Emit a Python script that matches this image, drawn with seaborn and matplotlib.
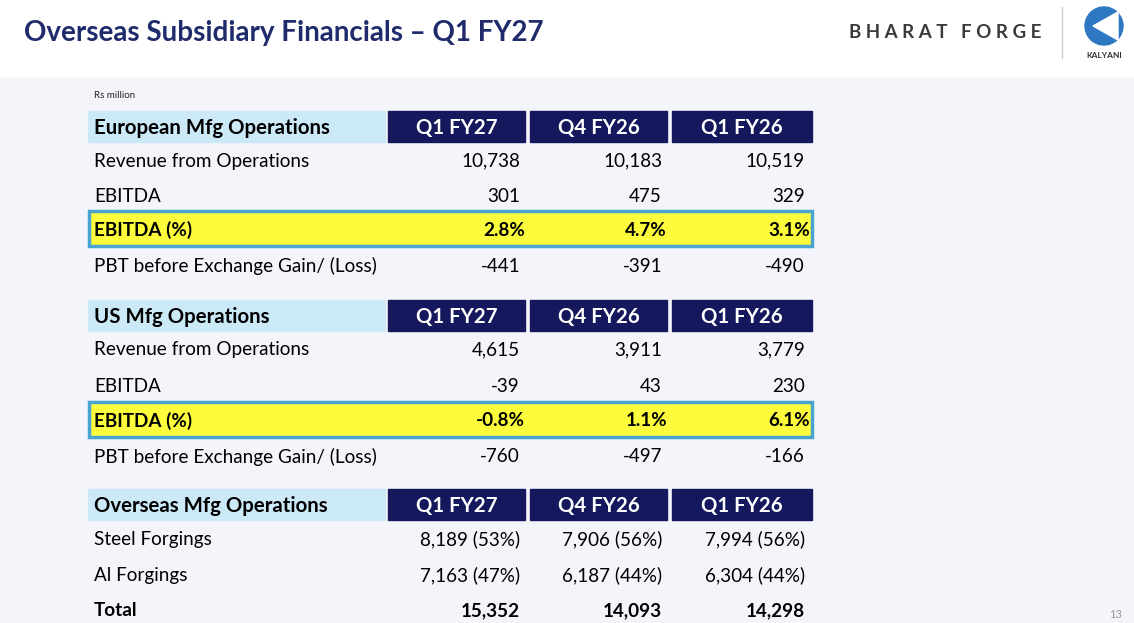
import matplotlib.pyplot as plt
import matplotlib.patches as mpatches
import seaborn as sns

sns.set_theme(style="white")
plt.rcParams['font.family'] = ['Lato', 'DejaVu Sans']

# ---- data
periods = ['Q1 FY27', 'Q4 FY26', 'Q1 FY26']
sections = ['European Mfg Operations', 'US Mfg Operations', 'Overseas Mfg Operations']
eu_rows = ['Revenue from Operations', 'EBITDA', 'EBITDA (%)', 'PBT before Exchange Gain/ (Loss)']
eu_vals = [['10,738', '10,183', '10,519'],
           ['301', '475', '329'],
           ['2.8%', '4.7%', '3.1%'],
           ['-441', '-391', '-490']]
us_rows = ['Revenue from Operations', 'EBITDA', 'EBITDA (%)', 'PBT before Exchange Gain/ (Loss)']
us_vals = [['4,615', '3,911', '3,779'],
           ['-39', '43', '230'],
           ['-0.8%', '1.1%', '6.1%'],
           ['-760', '-497', '-166']]
ov_rows = ['Steel Forgings', 'Al Forgings', 'Total']
ov_vals = [['8,189 (53%)', '7,906 (56%)', '7,994 (56%)'],
           ['7,163 (47%)', '6,187 (44%)', '6,304 (44%)'],
           ['15,352', '14,093', '14,298']]

NAVY = '#15185c'
fig = plt.figure(figsize=(11.34, 6.23), dpi=100)
ax = fig.add_axes([0, 0, 1, 1])
ax.set_xlim(0, 1134)
ax.set_ylim(623, 0)
ax.axis('off')
ax.add_patch(mpatches.Rectangle((0, 78), 1134, 545, color='#f4f5fa', zorder=0))

# header band
ax.text(24, 33, 'Overseas Subsidiary Financials \u2013 Q1 FY27', fontsize=20, fontweight='bold',
        color='#1f2b6b', va='center')
ax.text(945, 33, 'B H A R A T   F O R G E', fontsize=13.5, fontweight='bold', color='#3a3a3a',
        ha='center', va='center')
ax.plot([1062, 1062], [7, 58], color='#cccccc', lw=1)
ax.add_patch(mpatches.Circle((1104, 26), 19, color='#2e77c2'))
ax.add_patch(mpatches.Polygon([[1093, 26], [1118, 12], [1118, 40]], color='white'))
ax.text(1104, 55, 'KALYANI', fontsize=6, fontweight='bold', color='#333333', ha='center', va='center')
ax.text(94, 95, 'Rs million', fontsize=7, color='#222222', va='center')
ax.text(1115, 614, '13', fontsize=8, color='#999999', ha='center', va='center')

col_x = [(388, 525), (530, 667), (672, 812)]


def draw_section(title, top, rows, vals, offsets, highlight=-1, bold_last=False):
    ax.add_patch(mpatches.Rectangle((88, top), 297, 31, color='#cce9f8'))
    ax.text(94, top + 17, title, fontsize=14.7, fontweight='bold', color='black', va='center')
    for (x0, x1), p in zip(col_x, periods):
        ax.add_patch(mpatches.Rectangle((x0, top), x1 - x0, 31, color=NAVY))
        ax.text((x0 + x1) / 2, top + 17, p, fontsize=14.7, fontweight='bold', color='white',
                ha='center', va='center')
    for i, (name, v) in enumerate(zip(rows, vals)):
        y = top + 50 + offsets[i]
        bold = (i == highlight) or (bold_last and i == len(rows) - 1)
        if i == highlight:
            ax.add_patch(mpatches.Rectangle((89, y - 19), 723, 35, facecolor='#fcfc3c',
                                            edgecolor='#4aa3d0', lw=2.5))
            rx = [525, 667, 810]
        else:
            rx = [520, 662, 805]
        ax.text(94, y, name, fontsize=13.6, fontweight='bold' if bold else 'normal',
                color='black', va='center')
        for xr, s in zip(rx, v):
            ax.text(xr, y, s, fontsize=13.6, fontweight='bold' if bold else 'normal',
                    color='black', ha='right', va='center')


draw_section(sections[0], 111, eu_rows, eu_vals, [0, 35, 69, 105], highlight=2)
draw_section(sections[1], 300, us_rows, us_vals, [0, 36, 71, 107], highlight=2)
draw_section(sections[2], 489, ov_rows, ov_vals, [0, 36, 72], bold_last=True)

fig.savefig('out.png', dpi=100)
